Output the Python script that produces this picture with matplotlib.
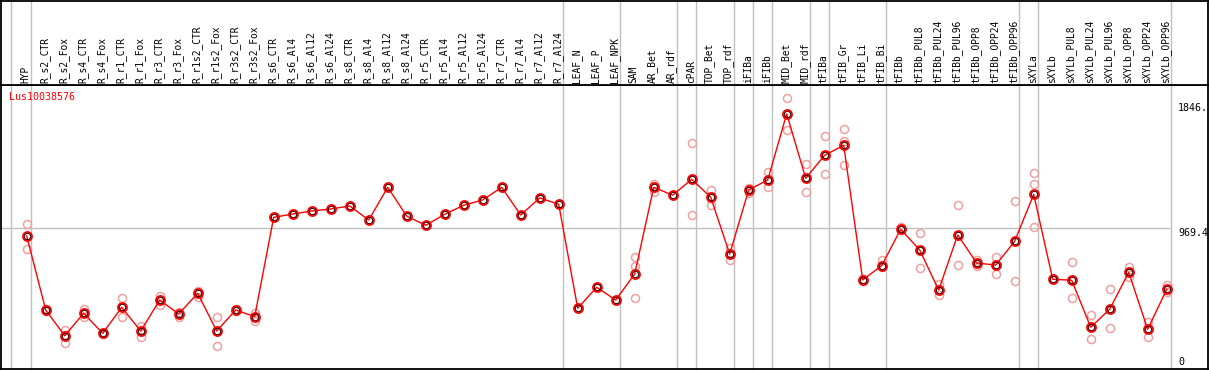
import numpy as np
import matplotlib
matplotlib.use("Agg")
import matplotlib.pyplot as plt

gene = "Lus10038576"

samples = ["HYP", "R_s2_CTR", "R_s2_Fox", "R_s4_CTR", "R_s4_Fox", "R_r1_CTR", "R_r1_Fox",
           "R_r3_CTR", "R_r3_Fox", "R_r1s2_CTR", "R_r1s2_Fox", "R_r3s2_CTR", "R_r3s2_Fox",
           "R_s6_CTR", "R_s6_Al4", "R_s6_Al12", "R_s6_Al24", "R_s8_CTR", "R_s8_Al4",
           "R_s8_Al12", "R_s8_Al24", "R_r5_CTR", "R_r5_Al4", "R_r5_Al12", "R_r5_Al24",
           "R_r7_CTR", "R_r7_Al4", "R_r7_Al12", "R_r7_Al24", "LEAF_N", "LEAF_P", "LEAF_NPK",
           "SAM", "AR_Bet", "AR_rdf", "cPAR", "TOP_Bet", "TOP_rdf", "iFIBa", "iFIBb",
           "MID_Bet", "MID_rdf", "tFIBa", "tFIB_Gr", "tFIB_Li", "tFIB_Bi", "tFIBb",
           "tFIBb_PUL8", "tFIBb_PUL24", "tFIBb_PUL96", "tFIBb_OPP8", "tFIBb_OPP24",
           "tFIBb_OPP96", "sXYLa", "sXYLb", "sXYLb_PUL8", "sXYLb_PUL24", "sXYLb_PUL96",
           "sXYLb_OPP8", "sXYLb_OPP24", "sXYLb_OPP96"]

means = [916, 400, 220, 377, 237, 418, 253, 469, 372, 516, 253, 400, 353,
         1046, 1069, 1090, 1104, 1125, 1027, 1255, 1055, 990, 1067, 1130, 1167,
         1255, 1062, 1181, 1137, 412, 558, 469,
         651, 1255, 1200, 1311, 1186, 790, 1237, 1306, 1767, 1318, 1479, 1548,
         609, 709, 963, 818, 539, 923, 727, 713, 879,
         1206, 614, 607, 279, 405, 662, 265, 544]

replicates = [[997, 918, 823], [405, 395, 400], [260, 172, 225], [404, 353, 376],
              [240, 232, 238], [481, 349, 418], [290, 213, 253], [497, 434, 469],
              [376, 353, 388], [534, 492, 516], [349, 149, 253], [405, 395], [381, 325, 353],
              [1046], [1069], [1090], [1104], [1125], [1027], [1255], [1055], [990], [1067],
              [1130], [1167], [1255], [1062], [1181], [1137], [412], [558], [469],
              [771, 706, 481], [1278, 1225, 1255], [1200], [1562, 1062, 1311],
              [1236, 1132, 1186], [834, 748, 790], [1252, 1218, 1240], [1362, 1255, 1306],
              [1876, 1655, 1767], [1416, 1220, 1318], [1613, 1346, 1478], [1660, 1578, 1409],
              [600, 615, 609], [748, 702, 709], [980, 955, 963], [934, 690, 818],
              [581, 504, 539], [1130, 711, 923], [748, 709, 727], [771, 649, 713],
              [1158, 600, 879], [1353, 1276, 981], [614], [732, 481, 607], [363, 197, 279],
              [544, 272, 405], [702, 632, 662], [314, 213, 265], [576, 525, 544]]

# group separators (drawn after these sample indices)
group_ends = [0, 28, 31, 34, 35, 37, 38, 39, 41, 42, 45, 52, 53, 60]

ytick_vals = [1846, 969.4, 0]
ytick_text = ["1846.", "969.4", "0"]

W, H = 1209, 370
fig = plt.figure(figsize=(W / 100, H / 100), dpi=100)
fig.patch.set_facecolor("white")

left = 1 / W
width = 1207 / W
ax = fig.add_axes([left, 1.5 / H, width, (368.5 - 85) / H])
hx = fig.add_axes([left, (H - 85) / H, width, 84 / H], sharex=ax)

xlo, xhi = (1 - 26.7) / 19, (1208 - 26.7) / 19
ax.set_xlim(xlo, xhi)
ax.set_ylim(-8.4, 1968.6)
hx.set_ylim(0, 1)

grey = "#c0c0c0"
seps = [-0.84] + [g + 0.21 for g in group_ends]
for a in (ax, hx):
    for s in seps:
        a.axvline(s, color=grey, lw=1, zorder=0)
    a.set_xticks([])
    a.set_yticks([])
    for sp in a.spines.values():
        sp.set_color("black")
        sp.set_linewidth(1.3)

ax.hlines(969.4, xlo, group_ends[-1] + 0.17, color=grey, lw=1, zorder=0)

x = np.arange(len(samples))
for i, reps in enumerate(replicates):
    ax.plot([i] * len(reps), reps, linestyle="none", marker="o", ms=5.8,
            mfc="none", mec="#f0a0a0", mew=1.1, zorder=2)
ax.plot(x, means, color="#ff0000", lw=1, zorder=3)
ax.plot(x, means, linestyle="none", marker="o", ms=6.6, mfc="none",
        mec="#ff0000", mew=1.2, zorder=4)
ax.plot(x, means, linestyle="none", marker="o", ms=4.6, mfc="none",
        mec="#400000", mew=0.8, zorder=5)

mono = "DejaVu Sans Mono"
for i, name in enumerate(samples):
    hx.text(i - 0.05, 2 / 84, name, rotation=90, ha="center", va="bottom",
            fontsize=6.9, family=mono, color="black")

ax.text(8.3 / 1207, 1 - 12.3 / 283.5, gene, transform=ax.transAxes, ha="left",
        va="center", fontsize=7.2, family=mono, color="#ff0000")

tx = (1178 - 26.7) / 19
for v, t in zip(ytick_vals, ytick_text):
    ax.text(tx, v, t, ha="left", va="bottom" if v == 0 else "top",
            fontsize=7.2, family=mono, color="black")

fig.savefig("out.png", dpi=100)
